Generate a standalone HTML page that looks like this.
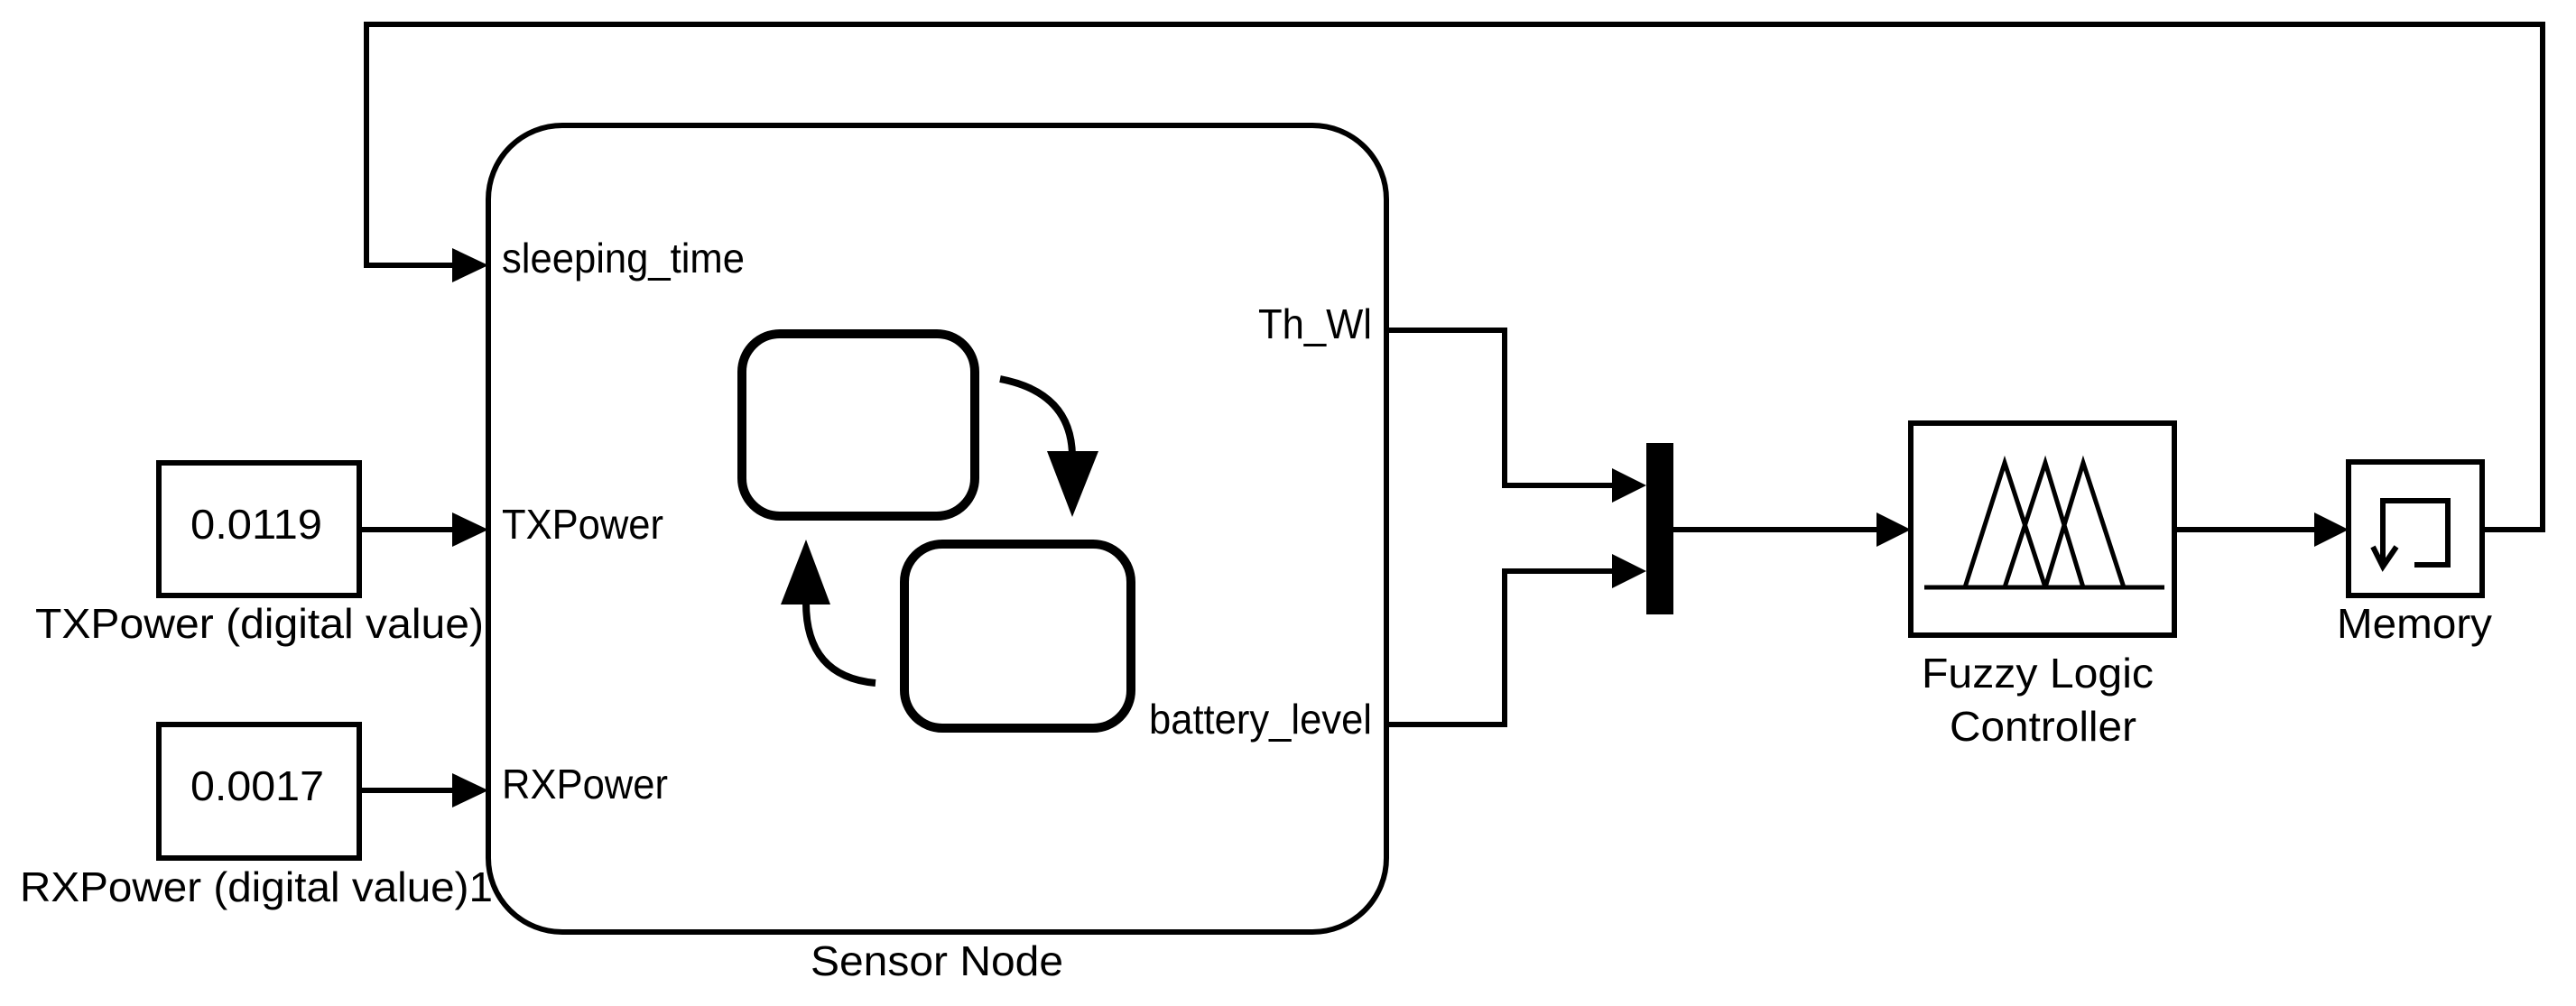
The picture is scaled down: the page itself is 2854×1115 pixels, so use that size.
<!DOCTYPE html>
<html><head><meta charset="utf-8"><style>html,body{margin:0;padding:0;background:#fff}svg{display:block}</style></head>
<body>
<svg width="2854" height="1115" viewBox="0 0 2854 1115" xmlns="http://www.w3.org/2000/svg" font-family="Liberation Sans, sans-serif" font-size="46" fill="#000">
<g fill="none" stroke="#000" stroke-width="6">
  <polyline points="2750,587 2817,587 2817,27 406,27 406,294 505,294"/>
  <rect x="541" y="139" width="995" height="894" rx="82" ry="82"/>
  <rect x="176" y="513" width="222" height="147"/>
  <rect x="176" y="803" width="222" height="148"/>
  <line x1="398" y1="587" x2="505" y2="587"/>
  <line x1="398" y1="876" x2="505" y2="876"/>
  <polyline points="1536,366 1667,366 1667,538 1790,538"/>
  <polyline points="1536,803 1667,803 1667,633 1790,633"/>
  <line x1="1854" y1="587" x2="2082" y2="587"/>
  <rect x="2117" y="469" width="292" height="235"/>
  <line x1="2409" y1="587" x2="2567" y2="587"/>
  <rect x="2602" y="512" width="148" height="148"/>
</g>
<g fill="none" stroke="#000" stroke-width="5">
  <line x1="2132" y1="651" x2="2398" y2="651"/>
  <polyline points="2177,651 2221,513 2266,651"/>
  <polyline points="2221,651 2266,513 2308,651"/>
  <polyline points="2266,651 2308,513 2353,651"/>
</g>
<g fill="none" stroke="#000" stroke-width="6">
  <polyline points="2675,626 2712,626 2712,555 2640,555 2640,626"/>
  <polyline points="2629,606 2640,628 2655,606"/>
</g>
<g fill="none" stroke="#000" stroke-width="10">
  <rect x="822" y="370" width="258" height="202" rx="42" ry="42"/>
  <rect x="1002" y="603" width="251" height="204" rx="42" ry="42"/>
</g>
<g fill="none" stroke="#000" stroke-width="8">
  <path d="M1108,420 Q1187,435 1188,505"/>
  <path d="M970,757 Q893,750 893,668"/>
</g>
<g fill="#000">
  <polygon points="1160,500 1217,500 1188,573"/>
  <polygon points="865,670 920,670 893,598"/>
  <polygon points="501,275 541,294 501,313"/>
  <polygon points="501,568 541,587 501,606"/>
  <polygon points="501,857 541,876 501,895"/>
  <polygon points="1786,519 1824,538 1786,557"/>
  <polygon points="1786,614 1824,633 1786,652"/>
  <polygon points="2079,568 2117,587 2079,606"/>
  <polygon points="2564,568 2602,587 2564,606"/>
  <rect x="1824" y="491" width="30" height="190"/>
</g>
<g>
  <text x="556" y="302" textLength="269" lengthAdjust="spacingAndGlyphs">sleeping_time</text>
  <text x="556" y="597" textLength="179" lengthAdjust="spacingAndGlyphs">TXPower</text>
  <text x="556" y="885" textLength="184" lengthAdjust="spacingAndGlyphs">RXPower</text>
  <text x="1394" y="375" textLength="126" lengthAdjust="spacingAndGlyphs">Th_Wl</text>
  <text x="1273" y="813" textLength="247" lengthAdjust="spacingAndGlyphs">battery_level</text>
  <text x="211" y="597" textLength="146" lengthAdjust="spacingAndGlyphs">0.0119</text>
  <text x="211" y="887" textLength="148" lengthAdjust="spacingAndGlyphs">0.0017</text>
  <text x="39" y="707" textLength="497" lengthAdjust="spacingAndGlyphs">TXPower (digital value)</text>
  <text x="22" y="999" textLength="524" lengthAdjust="spacingAndGlyphs">RXPower (digital value)1</text>
  <text x="898" y="1081" textLength="280" lengthAdjust="spacingAndGlyphs">Sensor Node</text>
  <text x="2129" y="762" textLength="257" lengthAdjust="spacingAndGlyphs">Fuzzy Logic</text>
  <text x="2160" y="821" textLength="207" lengthAdjust="spacingAndGlyphs">Controller</text>
  <text x="2589" y="707" textLength="172" lengthAdjust="spacingAndGlyphs">Memory</text>
</g>
</svg>
</body></html>
